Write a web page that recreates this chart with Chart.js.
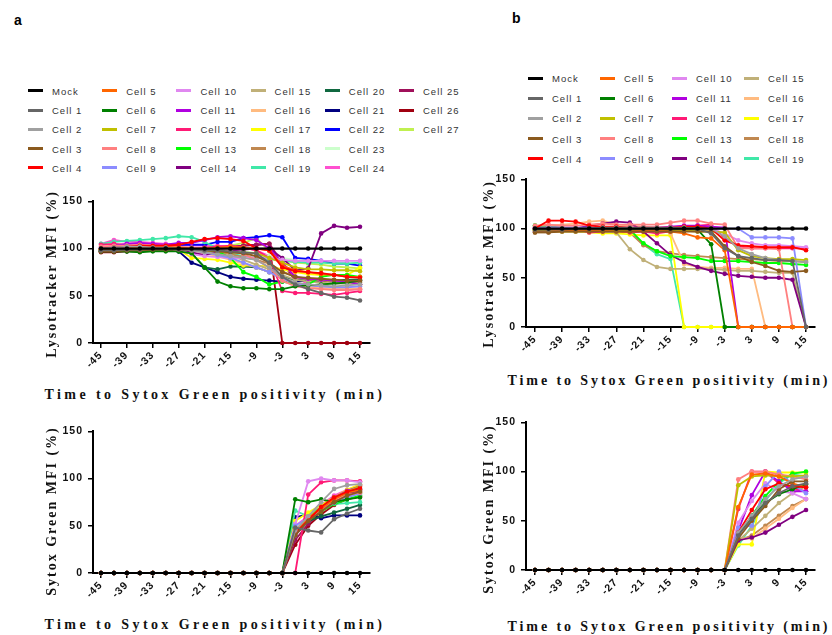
<!DOCTYPE html>
<html>
<head>
<meta charset="utf-8">
<script src="https://cdn.jsdelivr.net/npm/chart.js@4.4.1/dist/chart.umd.min.js"></script>
<style>
  body { margin: 0; background: #fff; }
  #page { position: relative; width: 832px; height: 635px; overflow: hidden; font-family: Arial, "Liberation Sans", sans-serif; }
  canvas { position: absolute; }
  .panel { position: absolute; font-weight: bold; font-size: 14px; }
  .ytitle, .xtitle { position: absolute; white-space: nowrap; font-family: "Liberation Serif", "Times New Roman", serif; font-weight: bold; font-size: 14px; color: #111; }
  .ytitle { letter-spacing: 2px; transform: translate(-50%, -50%) rotate(-90deg); }
  .xtitle { letter-spacing: 3.4px; transform: translate(-50%, -50%); }
  .xtitle.b { letter-spacing: 2.9px; }
  .leg { position: absolute; font-size: 9.5px; letter-spacing: 1px; color: #333; white-space: nowrap; }
  .leg i { position: absolute; left: 0; top: 50%; width: 15px; height: 3px; margin-top: -1.5px; }
  .leg span { position: absolute; left: 24px; top: 50%; transform: translateY(-50%); }
</style>
</head>
<body>
<div id="page">
  <div class="panel" style="left:14px;top:12px">a</div>
  <div class="panel" style="left:512px;top:10px">b</div>
  <div id="legA"></div>
  <div id="legB"></div>
  <canvas id="lysoA" width="400" height="190" style="left:0;top:190px"></canvas>
  <canvas id="sytoxA" width="400" height="190" style="left:0;top:420px"></canvas>
  <canvas id="lysoB" width="392" height="190" style="left:440px;top:168px"></canvas>
  <canvas id="sytoxB" width="392" height="190" style="left:440px;top:411px"></canvas>
  <div class="ytitle" style="left:52px;top:274px">Lysotracker MFI (%)</div>
  <div class="xtitle" style="left:215px;top:395px">Time to Sytox Green positivity (min)</div>
  <div class="ytitle" style="left:52px;top:511px">Sytox Green MFI (%)</div>
  <div class="xtitle" style="left:215px;top:625px">Time to Sytox Green positivity (min)</div>
  <div class="ytitle" style="left:489px;top:264px">Lysotracker MFI (%)</div>
  <div class="xtitle b" style="left:669px;top:381px">Time to Sytox Green positivity (min)</div>
  <div class="ytitle" style="left:489px;top:509px">Sytox Green MFI (%)</div>
  <div class="xtitle b" style="left:669px;top:627px">Time to Sytox Green positivity (min)</div>
</div>
<script>
const times = [-45,-42,-39,-36,-33,-30,-27,-24,-21,-18,-15,-12,-9,-6,-3,0,3,6,9,12,15];
const timeTicks = [-45,-39,-33,-27,-21,-15,-9,-3,3,9,15];
const yTicks = [0,50,100,150];

const names = ['Mock','Cell 1','Cell 2','Cell 3','Cell 4','Cell 5','Cell 6','Cell 7','Cell 8','Cell 9',
  'Cell 10','Cell 11','Cell 12','Cell 13','Cell 14','Cell 15','Cell 16','Cell 17','Cell 18','Cell 19',
  'Cell 20','Cell 21','Cell 22','Cell 23','Cell 24','Cell 25','Cell 26','Cell 27'];
const colors = ['#000000','#666666','#a0a0a0','#8b5a1e','#ff0000','#ff6600','#008000','#c0c000','#ff8080','#8c8cff',
  '#e088f0','#b000e0','#ff1a75','#00ff00','#800080','#c0b078','#ffbb80','#ffff00','#c08850','#40e8a8',
  '#106840','#000080','#0000ff','#ccffcc','#ff50d0','#a0105a','#a00010','#c0f050'];

// panel a, Lysotracker MFI (%), one row per series (Mock, Cell 1 .. Cell 27)
const lysoA = [
  [100,100,100,100,100,100,100,100,100,100,100,100,100,100,100,100,100,100,100,100,100],
  [98,98,99,99,100,100,99,99,98,98,97,96,95,85,70,62,57,53,49,48,45],
  [100,101,102,102,101,101,100,98,96,94,92,90,88,80,70,64,62,61,60,61,62],
  [97,97,98,98,99,99,99,98,98,97,96,95,92,85,75,70,69,68,67,66,66],
  [100,101,102,103,103,103,104,107,110,111,110,108,100,98,80,76,75,74,72,70,69],
  [99,100,101,101,102,102,101,100,100,101,102,101,100,98,82,77,75,73,72,70,70],
  [97,97,97,96,97,97,97,95,80,65,60,58,58,57,57,60,61,62,63,64,66],
  [99,99,100,100,100,100,100,99,98,97,96,96,95,90,85,80,78,78,77,77,76],
  [102,103,103,104,103,103,102,101,100,99,97,94,88,80,66,60,58,57,56,56,57],
  [101,102,103,102,102,101,100,98,96,93,90,85,80,75,68,63,61,60,59,59,60],
  [101,102,103,103,102,101,98,94,92,91,90,90,91,90,88,87,87,87,87,87,87],
  [100,103,105,106,105,104,106,106,109,112,113,111,109,100,85,70,68,67,66,65,62],
  [104,105,104,103,102,100,100,100,101,102,103,101,98,90,55,53,53,52,51,53,55],
  [99,99,100,100,100,100,100,99,99,97,90,75,70,62,65,62,62,70,72,72,70],
  [99,99,100,100,100,100,99,96,93,96,98,99,100,100,90,77,79,116,124,122,123],
  [98,99,99,100,100,100,99,98,97,95,92,88,83,78,72,67,65,64,63,63,62],
  [100,101,101,102,102,101,100,98,95,92,88,84,80,75,68,62,60,58,58,57,58],
  [99,99,99,100,100,100,99,90,89,88,85,82,82,81,78,75,73,72,72,72,80],
  [99,100,100,101,101,101,100,99,98,96,94,91,88,84,76,70,67,66,65,65,64],
  [105,107,108,109,110,111,113,112,107,100,95,92,90,89,87,86,85,85,84,84,85],
  [97,97,97,97,98,98,97,95,80,78,81,81,80,75,70,67,66,66,66,67,67],
  [98,98,99,99,100,100,97,85,80,75,70,68,67,66,65,65,66,66,65,65,66],
  [99,100,101,101,102,103,104,104,104,107,107,111,112,114,112,90,89,87,84,84,82],
  [101,101,102,102,102,101,101,100,100,99,98,97,95,92,90,88,87,86,86,85,85],
  [105,109,107,107,106,105,104,103,103,103,102,101,98,92,85,70,62,58,57,56,57],
  [98,98,99,99,99,100,100,100,101,101,102,103,104,105,85,66,66,66,65,64,62],
  [96,96,97,97,98,98,99,99,100,100,101,103,104,105,0,0,0,0,0,0,0],
  [99,99,100,100,100,100,100,99,99,100,103,106,111,97,88,85,84,83,81,80,79]
];

// panel a, Sytox Green MFI (%)
const sytoxA = [
  [0,0,0,0,0,0,0,0,0,0,0,0,0,0,0,0,0,0,0,0,0],
  [0,0,0,0,0,0,0,0,0,0,0,0,0,0,0,48,45,43,57,63,68],
  [0,0,0,0,0,0,0,0,0,0,0,0,0,0,0,45,60,75,89,93,94],
  [0,0,0,0,0,0,0,0,0,0,0,0,0,0,0,40,55,65,75,82,86],
  [0,0,0,0,0,0,0,0,0,0,0,0,0,0,0,42,56,70,80,86,90],
  [0,0,0,0,0,0,0,0,0,0,0,0,0,0,0,45,58,68,78,85,88],
  [0,0,0,0,0,0,0,0,0,0,0,0,0,0,0,78,75,78,75,78,80],
  [0,0,0,0,0,0,0,0,0,0,0,0,0,0,0,44,58,70,80,86,92],
  [0,0,0,0,0,0,0,0,0,0,0,0,0,0,0,45,57,68,77,83,85],
  [0,0,0,0,0,0,0,0,0,0,0,0,0,0,0,50,58,66,74,80,84],
  [0,0,0,0,0,0,0,0,0,0,0,0,0,0,0,52,97,100,98,98,96],
  [0,0,0,0,0,0,0,0,0,0,0,0,0,0,0,40,55,68,80,87,92],
  [0,0,0,0,0,0,0,0,0,0,0,0,0,0,0,0,83,96,98,98,97],
  [0,0,0,0,0,0,0,0,0,0,0,0,0,0,0,40,55,65,73,78,82],
  [0,0,0,0,0,0,0,0,0,0,0,0,0,0,0,42,55,66,76,83,87],
  [0,0,0,0,0,0,0,0,0,0,0,0,0,0,0,45,57,67,76,82,85],
  [0,0,0,0,0,0,0,0,0,0,0,0,0,0,0,46,58,68,77,82,86],
  [0,0,0,0,0,0,0,0,0,0,0,0,0,0,0,55,64,72,80,88,94],
  [0,0,0,0,0,0,0,0,0,0,0,0,0,0,0,43,56,67,76,82,85],
  [0,0,0,0,0,0,0,0,0,0,0,0,0,0,0,66,60,70,73,74,75],
  [0,0,0,0,0,0,0,0,0,0,0,0,0,0,0,44,55,60,64,68,72],
  [0,0,0,0,0,0,0,0,0,0,0,0,0,0,0,59,62,58,61,61,61],
  [0,0,0,0,0,0,0,0,0,0,0,0,0,0,0,45,55,70,80,85,89],
  [0,0,0,0,0,0,0,0,0,0,0,0,0,0,0,48,58,68,75,80,83],
  [0,0,0,0,0,0,0,0,0,0,0,0,0,0,0,50,60,72,82,88,93],
  [0,0,0,0,0,0,0,0,0,0,0,0,0,0,0,35,52,65,78,85,88],
  [0,0,0,0,0,0,0,0,0,0,0,0,0,0,0,30,50,62,72,78,81],
  [0,0,0,0,0,0,0,0,0,0,0,0,0,0,0,42,55,65,74,80,84]
];

// panel b, Lysotracker MFI (%), Mock + Cell 1 .. Cell 19
const lysoB = [
  [100,100,100,100,100,100,100,100,100,100,100,100,100,100,100,100,100,100,100,100,100],
  [99,99,99,100,100,100,100,100,100,100,100,100,100,95,80,72,70,68,68,67,0],
  [100,100,100,100,100,101,101,101,101,101,101,101,100,100,92,80,74,70,68,67,66],
  [96,96,97,97,97,97,97,97,97,97,97,97,97,97,82,72,66,62,57,56,57],
  [100,108,108,107,103,102,102,101,101,101,101,102,102,100,88,83,82,81,81,81,78],
  [99,99,98,98,98,98,97,97,98,98,97,95,91,90,78,0,0,0,0,0,0],
  [99,99,99,99,99,99,99,99,99,99,99,100,99,84,0,0,0,0,0,0,0],
  [98,98,98,98,98,98,98,98,98,98,98,98,97,97,96,78,72,70,69,69,68],
  [103,104,103,103,104,105,104,104,104,104,106,108,108,105,104,80,80,80,79,0,0],
  [101,101,101,101,101,101,100,100,100,100,100,100,100,100,100,100,91,91,91,90,0],
  [101,101,101,100,100,100,100,100,100,100,100,100,101,100,95,88,85,83,83,82,81],
  [100,101,101,101,101,101,101,101,101,101,102,103,103,102,101,0,0,0,0,0,0],
  [101,101,101,100,96,97,98,96,97,95,97,101,103,104,90,82,80,80,80,80,80],
  [103,102,101,100,100,100,100,99,85,77,72,71,70,67,67,67,66,65,65,64,63],
  [97,97,98,100,103,105,107,106,97,85,73,66,61,57,54,52,51,50,50,48,0],
  [98,98,97,97,97,97,96,79,68,61,59,59,59,59,58,57,57,56,55,55,0],
  [102,103,104,105,107,108,104,103,102,101,95,64,61,60,60,59,59,0,0,0,0],
  [98,98,97,97,96,95,95,94,93,93,93,0,0,0,0,0,0,0,0,0,0],
  [96,96,97,97,97,97,97,96,83,77,75,73,72,71,70,69,69,68,67,67,66],
  [103,102,101,100,100,99,99,98,84,74,69,0,0,0,0,0,0,0,0,0,0]
];

// panel b, Sytox Green MFI (%)
const sytoxB = [
  [0,0,0,0,0,0,0,0,0,0,0,0,0,0,0,0,0,0,0,0,0],
  [0,0,0,0,0,0,0,0,0,0,0,0,0,0,0,35,52,68,78,85,88],
  [0,0,0,0,0,0,0,0,0,0,0,0,0,0,0,38,55,72,85,92,95],
  [0,0,0,0,0,0,0,0,0,0,0,0,0,0,0,32,50,65,82,90,90],
  [0,0,0,0,0,0,0,0,0,0,0,0,0,0,0,38,61,82,88,85,84],
  [0,0,0,0,0,0,0,0,0,0,0,0,0,0,0,64,97,98,95,88,84],
  [0,0,0,0,0,0,0,0,0,0,0,0,0,0,0,36,55,68,77,82,87],
  [0,0,0,0,0,0,0,0,0,0,0,0,0,0,0,86,95,96,95,95,96],
  [0,0,0,0,0,0,0,0,0,0,0,0,0,0,0,92,100,100,97,95,92],
  [0,0,0,0,0,0,0,0,0,0,0,0,0,0,0,43,45,85,100,87,78],
  [0,0,0,0,0,0,0,0,0,0,0,0,0,0,0,48,70,88,80,78,72],
  [0,0,0,0,0,0,0,0,0,0,0,0,0,0,0,40,76,100,90,80,80],
  [0,0,0,0,0,0,0,0,0,0,0,0,0,0,0,62,100,100,88,83,80],
  [0,0,0,0,0,0,0,0,0,0,0,0,0,0,0,35,55,75,90,98,100],
  [0,0,0,0,0,0,0,0,0,0,0,0,0,0,0,30,33,38,46,54,61],
  [0,0,0,0,0,0,0,0,0,0,0,0,0,0,0,30,42,55,68,78,85],
  [0,0,0,0,0,0,0,0,0,0,0,0,0,0,0,32,32,42,52,63,72],
  [0,0,0,0,0,0,0,0,0,0,0,0,0,0,0,26,26,100,99,99,99],
  [0,0,0,0,0,0,0,0,0,0,0,0,0,0,0,30,35,45,55,65,72],
  [0,0,0,0,0,0,0,0,0,0,0,0,0,0,0,25,45,70,88,97,95]
];

// ticks on these figures are drawn with a bit of tracking
const spacing = {
  id: 'spacing',
  beforeDraw(chart) { chart.ctx.letterSpacing = '1px'; }
};

function makeChart(id, rows, box) {
  const datasets = rows.map((vals, i) => ({
    label: names[i],
    data: times.map((t, j) => ({ x: t, y: vals[j] })),
    borderColor: colors[i],
    backgroundColor: colors[i],
    borderWidth: i === 0 ? 2.2 : 1.8,
    pointRadius: 2.3,
    pointHoverRadius: 2.3,
    pointBorderWidth: 0,
    tension: 0,
    clip: false
  }));
  const tickFont = { family: 'Arial', weight: 'bold', size: 10.5 };
  return new Chart(document.getElementById(id), {
    type: 'line',
    data: { datasets: datasets },
    plugins: [spacing],
    options: {
      responsive: false,
      animation: false,
      events: [],
      layout: { padding: { top: 10, right: box.right, left: 0, bottom: 0 } },
      plugins: { legend: { display: false }, tooltip: { enabled: false } },
      scales: {
        x: {
          type: 'linear',
          min: box.xmin,
          max: box.xmax,
          afterBuildTicks: s => { s.ticks = timeTicks.map(v => ({ value: v })); },
          afterFit: s => { s.height = box.xh; },
          grid: { drawOnChartArea: false, drawTicks: true, tickLength: 5, color: '#000', lineWidth: 1.5 },
          border: { color: '#000', width: 2 },
          ticks: { autoSkip: false, minRotation: 45, maxRotation: 45, color: '#111', font: tickFont, padding: 1 }
        },
        y: {
          min: 0,
          max: 150,
          afterBuildTicks: s => { s.ticks = yTicks.map(v => ({ value: v })); },
          afterFit: s => { s.width = box.yw; },
          grid: { drawOnChartArea: false, drawTicks: true, tickLength: 5, color: '#000', lineWidth: 1.5 },
          border: { color: '#000', width: 2 },
          ticks: { color: '#111', font: tickFont, padding: 5 }
        }
      }
    }
  });
}

makeChart('lysoA', lysoA, { xmin: -46.85, xmax: 17.32, yw: 93, xh: 37, right: 30 });
makeChart('sytoxA', sytoxA, { xmin: -46.85, xmax: 17.32, yw: 93, xh: 37, right: 30 });
makeChart('lysoB', lysoB, { xmin: -46.99, xmax: 16.99, yw: 86, xh: 31, right: 17 });
makeChart('sytoxB', sytoxB, { xmin: -46.99, xmax: 16.99, yw: 86, xh: 31, right: 17 });

// legends: five entries per column, filled column by column
function makeLegend(id, count, x0, colStep, y0, rowStep) {
  const host = document.getElementById(id);
  for (let i = 0; i < count; i++) {
    const col = Math.floor(i / 5), row = i % 5;
    const el = document.createElement('div');
    el.className = 'leg';
    el.style.left = (x0 + col * colStep) + 'px';
    el.style.top = (y0 + row * rowStep - 7) + 'px';
    el.style.height = '14px';
    el.style.width = '70px';
    el.innerHTML = '<i style="background:' + colors[i] + '"></i><span>' + names[i] + '</span>';
    host.appendChild(el);
  }
}
makeLegend('legA', 28, 28, 74.2, 90.7, 19.3);
makeLegend('legB', 20, 528, 72, 78, 20.2);
</script>
</body>
</html>
